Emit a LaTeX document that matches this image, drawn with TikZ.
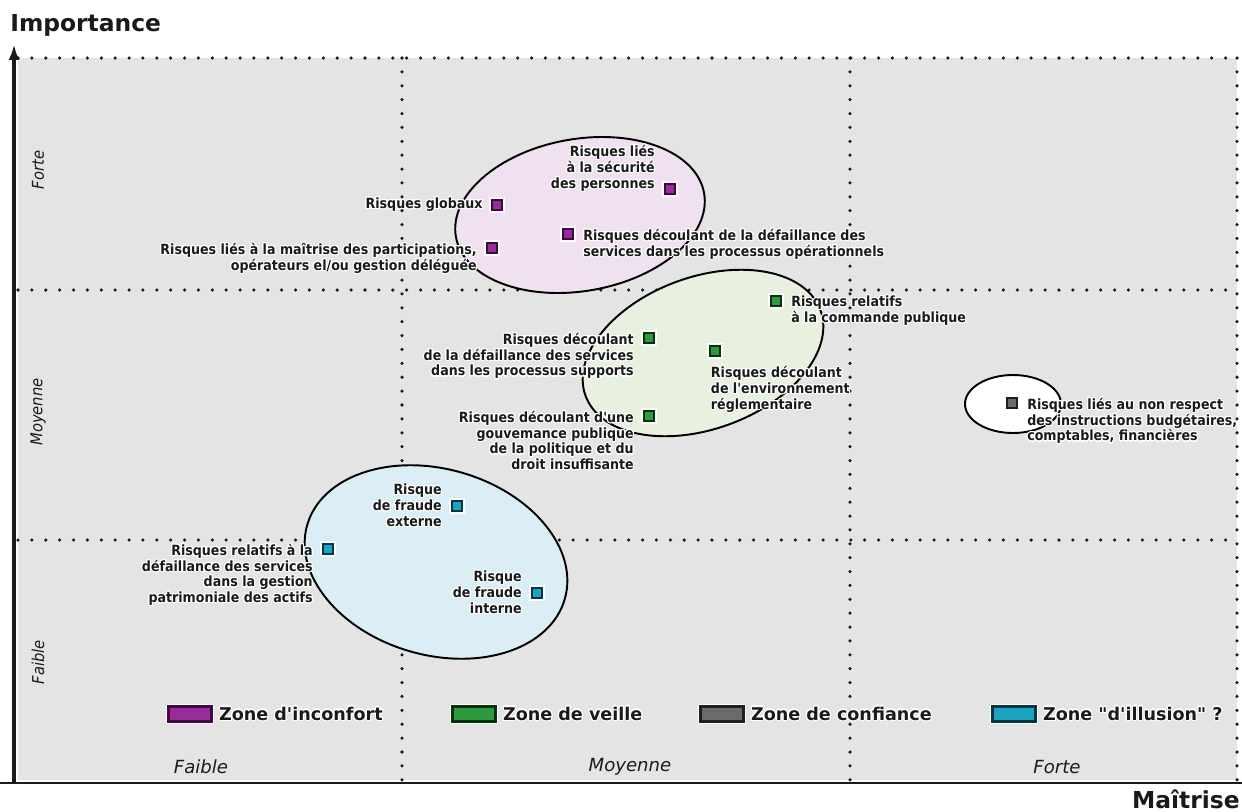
\documentclass[tikz,border=0pt]{standalone}
\usepackage{fontspec}
\setmainfont{DejaVu Sans}
\newfontfamily\condfont{DejaVu Sans Condensed}
\newfontfamily\legfont{DejaVu Sans}
\usepackage{contour}
\contourlength{0.6pt}
\usetikzlibrary{positioning,arrows.meta}

% colours of the zones
\definecolor{plotgray}{HTML}{E4E4E4}
\definecolor{inconfort}{HTML}{9A2C9A}
\definecolor{inconfortdk}{HTML}{3C0A40}
\definecolor{inconfortbg}{HTML}{EFE1EF}
\definecolor{veille}{HTML}{2E9A3E}
\definecolor{veilledk}{HTML}{0A300F}
\definecolor{veillebg}{HTML}{E8F0E0}
\definecolor{confiance}{HTML}{6B6B6B}
\definecolor{confiancedk}{HTML}{1E1E1E}
\definecolor{illusion}{HTML}{1BA3C4}
\definecolor{illusiondk}{HTML}{0A3442}
\definecolor{illusionbg}{HTML}{DCEEF5}
\definecolor{textdk}{HTML}{1A1A1A}

\newcommand{\halo}[1]{\contour{white}{#1}}

\begin{document}
\begin{tikzpicture}[x=0.02cm, y=-0.02cm,
  dotline/.style={line width=2pt, line cap=round, dash pattern=on 0pt off 7.9pt, textdk},
  zone/.style={line width=1.1pt, draw=black},
  riskpt/.style={rectangle, minimum size=0.21cm, inner sep=0pt, line width=1pt,
    preaction={draw=white, line width=2.8pt}},
  risk/.style={inner sep=1pt, font=\condfont\bfseries\fontsize{8}{9}\selectfont, text=textdk},
  swatch/.style={rectangle, minimum width=0.86cm, minimum height=0.3cm, inner sep=0pt,
    line width=1.2pt, preaction={draw=white, line width=3pt}},
  legend/.style={inner sep=0pt, font=\legfont\bfseries\fontsize{10}{12}\selectfont, text=textdk},
  level/.style={inner sep=0pt, font=\itshape\fontsize{10.3}{12}\selectfont, text=textdk},
  ylevel/.style={inner sep=0pt, font=\condfont\itshape\fontsize{9.3}{11}\selectfont, text=textdk, rotate=90},
  axistitle/.style={inner sep=0pt, font=\bfseries\fontsize{13.3}{15}\selectfont, text=textdk}]
\useasboundingbox (0,0) rectangle (1242,812);

% plot area and dotted grid
\fill[plotgray] (18,58) rectangle (1237,780);
\draw[dotline] (18,58) -- (1237,58);
\draw[dotline] (1237,58) -- (1237,780);
\draw[dotline] (402,58) -- (402,780);
\draw[dotline] (850,58) -- (850,780);
\draw[dotline] (18,290) -- (1237,290);
\draw[dotline] (18,540) -- (1237,540);

% axes
\draw[line width=2.2pt, textdk, -{Latex[length=9pt, width=6pt]}] (14,783) -- (14,44);
\draw[line width=1.6pt, textdk] (0,783) -- (1242,783);
\node[axistitle, anchor=base west] (imp) at (10,31) {Importance};
\node[axistitle, anchor=base east] (mai) at (1240,808) {Maîtrise};

% levels on both axes
\node[ylevel] (yfor) at (38,170) {Forte};
\node[ylevel] (ymoy) at (38,412) {Moyenne};
\node[ylevel] (yfai) at (38,662) {Faible};
\node[level] (xfai) at (201,767) {Faible};
\node[level] (xmoy) at (630,767) {Moyenne};
\node[level] (xfor) at (1057,767) {Forte};

% zones
\draw[zone, fill=inconfortbg, rotate around={10:(580,215)}] (580,215) ellipse [x radius=126, y radius=76];
\draw[zone, fill=veillebg, rotate around={20:(703,353)}] (703,353) ellipse [x radius=125, y radius=76];
\draw[zone, fill=white] (1013,404) ellipse [x radius=48, y radius=29];
\draw[zone, fill=illusionbg, rotate around={-16:(436,562)}] (436,562) ellipse [x radius=134, y radius=93];

% zone d'inconfort
\node[riskpt, fill=inconfort, draw=inconfortdk] (glob) at (497,205) {};
\node[riskpt, fill=inconfort, draw=inconfortdk] (secu) at (670,189) {};
\node[riskpt, fill=inconfort, draw=inconfortdk] (oper) at (568,234) {};
\node[riskpt, fill=inconfort, draw=inconfortdk] (part) at (492,248) {};
\node[risk, left=3.5pt of glob] (globt) {\halo{Risques globaux}};
\node[risk, align=right, left=4pt of secu, anchor=south east, yshift=-3pt] (secut)
  {\halo{Risques liés}\\\halo{à la sécurité}\\\halo{des personnes}};
\node[risk, align=left, right=4pt of oper, anchor=north west, yshift=4pt] (opert)
  {\halo{Risques découlant de la défaillance des}\\\halo{services dans les processus opérationnels}};
\node[risk, align=right, left=4pt of part, anchor=north east, yshift=4pt] (partt)
  {\halo{Risques liés à la maîtrise des participations,}\\\halo{opérateurs el/ou gestion déléguée}};

% zone de veille
\node[riskpt, fill=veille, draw=veilledk] (cmd) at (776,301) {};
\node[riskpt, fill=veille, draw=veilledk] (supp) at (649,338) {};
\node[riskpt, fill=veille, draw=veilledk] (envi) at (715,351) {};
\node[riskpt, fill=veille, draw=veilledk] (gouv) at (649,416) {};
\node[risk, align=left, right=4pt of cmd, anchor=north west, yshift=4pt] (cmdt)
  {\halo{Risques relatifs}\\\halo{à la commande publique}};
\node[risk, align=right, left=4pt of supp, anchor=north east, yshift=4pt] (suppt)
  {\halo{Risques découlant}\\\halo{de la défaillance des services}\\\halo{dans les processus supports}};
\node[risk, align=left, below=4pt of envi.south west, anchor=north west] (envit)
  {\halo{Risques découlant}\\\halo{de l'environnement}\\\halo{réglementaire}};
\node[risk, align=right, left=4pt of gouv, anchor=north east, yshift=4pt] (gouvt)
  {\halo{Risques découlant d'une}\\\halo{gouvemance publique}\\\halo{de la politique et du}\\\halo{droit insuffisante}};

% zone de confiance
\node[riskpt, fill=confiance, draw=confiancedk] (budg) at (1012,403) {};
\node[risk, align=left, right=4pt of budg, anchor=north west, yshift=4pt] (budgt)
  {\halo{Risques liés au non respect}\\\halo{des instructions budgétaires,}\\\halo{comptables, financières}};

% zone d'illusion
\node[riskpt, fill=illusion, draw=illusiondk] (fext) at (457,506) {};
\node[riskpt, fill=illusion, draw=illusiondk] (patr) at (328,549) {};
\node[riskpt, fill=illusion, draw=illusiondk] (fint) at (537,593) {};
\node[risk, align=right, left=4pt of fext] (fextt)
  {\halo{Risque}\\\halo{de fraude}\\\halo{externe}};
\node[risk, align=right, left=4pt of patr, anchor=north east, yshift=4pt] (patrt)
  {\halo{Risques relatifs à la}\\\halo{défaillance des services}\\\halo{dans la gestion}\\\halo{patrimoniale des actifs}};
\node[risk, align=right, left=4pt of fint] (fintt)
  {\halo{Risque}\\\halo{de fraude}\\\halo{interne}};

% legend
\node[swatch, fill=inconfort, draw=inconfortdk] (swinc) at (190,714) {};
\node[swatch, fill=veille, draw=veilledk] (swvei) at (474,714) {};
\node[swatch, fill=confiance, draw=confiancedk] (swcon) at (722,714) {};
\node[swatch, fill=illusion, draw=illusiondk] (swill) at (1014,714) {};
\node[legend, right=3.5pt of swinc] (lginc) {\halo{Zone d'inconfort}};
\node[legend, right=3.5pt of swvei] (lgvei) {\halo{Zone de veille}};
\node[legend, right=3.5pt of swcon] (lgcon) {\halo{Zone de confiance}};
\node[legend, right=3.5pt of swill] (lgill) {\halo{Zone "d'illusion" ?}};
\end{tikzpicture}
\end{document}
